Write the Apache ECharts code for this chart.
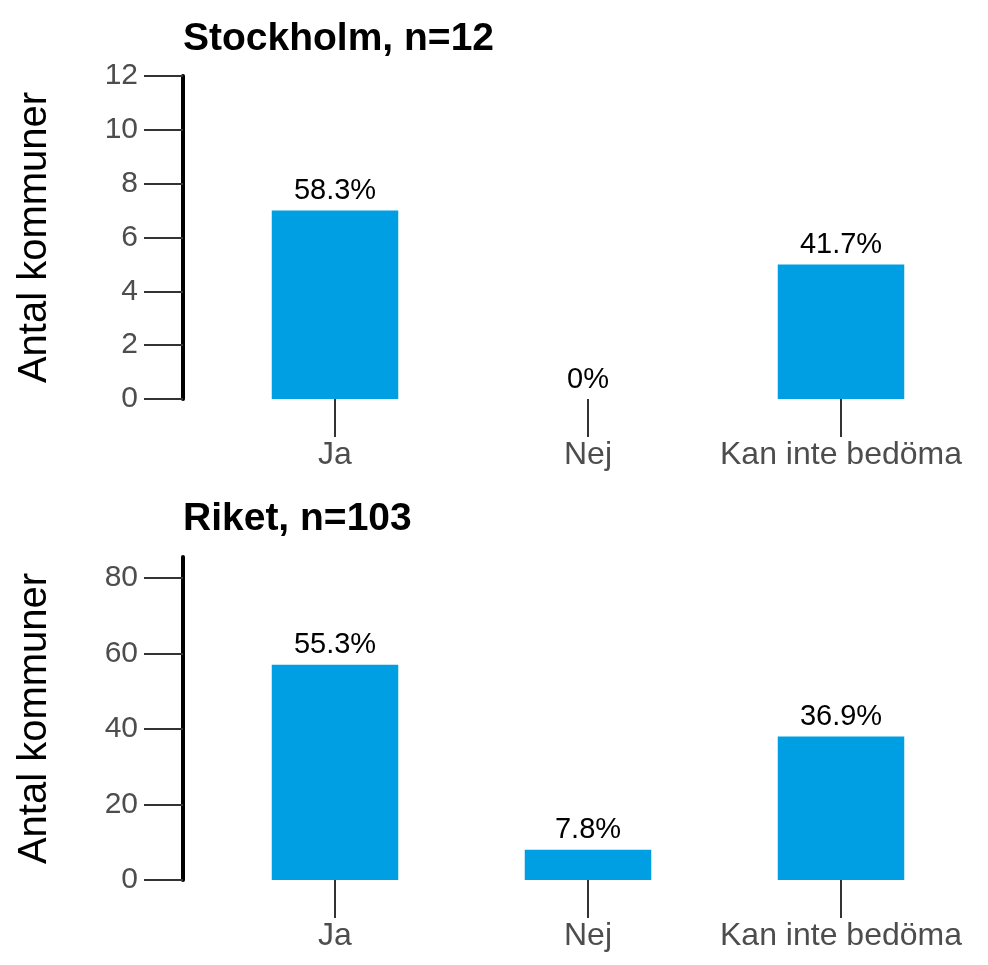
<!DOCTYPE html>
<html>
<head>
<meta charset="utf-8">
<script src="https://cdn.jsdelivr.net/npm/echarts@6/dist/echarts.min.js"></script>
<style>
  html, body { margin: 0; padding: 0; background: #fff; }
  #chart1 { width: 988px; height: 965px; }
</style>
</head>
<body>
<div id="chart1"></div>
<script>
// 类别
var categories = ['Ja', 'Nej', 'Kan inte bedöma'];

// Stockholm, n=12
var stockholmTitle = 'Stockholm, n=12';
var stockholmCounts = [7, 0, 5];
var stockholmPct = ['58.3%', '0%', '41.7%'];
var stockholmTicks = [0, 2, 4, 6, 8, 10, 12];
var stockholmMax = 12;

// Riket, n=103
var riketTitle = 'Riket, n=103';
var riketCounts = [57, 8, 38];
var riketPct = ['55.3%', '7.8%', '36.9%'];
var riketTicks = [0, 20, 40, 60, 80];
var riketMax = 85.5;

var fontName = 'Liberation Sans, Arial, sans-serif';

function makeXAxis(idx){
    return {
        type: 'category',
        gridIndex: idx,
        data: categories,
        axisLine: { show: false },
        axisTick: {
            show: true,
            interval: 0,
            alignWithLabel: true,
            length: 38,
            lineStyle: { color: '#333333', width: 2 }
        },
        axisLabel: {
            interval: 0,
            margin: 40,
            fontSize: 32,
            color: '#4d4d4d',
            fontFamily: fontName
        },
        splitLine: { show: false }
    };
}

function makeYAxis(idx, max, ticks){
    return {
        type: 'value',
        gridIndex: idx,
        min: 0,
        max: max,
        offset: 25.5,
        name: 'Antal kommuner',
        nameLocation: 'middle',
        nameRotate: 90,
        nameGap: 128,
        nameTextStyle: { fontSize: 40, color: '#000', fontFamily: fontName },
        axisLine: { show: true, lineStyle: { color: '#000', width: 4 } },
        axisTick: {
            show: true,
            length: 39,
            customValues: ticks,
            lineStyle: { color: '#333333', width: 2 }
        },
        axisLabel: {
            margin: 45,
            fontSize: 30,
            color: '#4d4d4d',
            fontFamily: fontName,
            customValues: ticks
        },
        splitLine: { show: false }
    };
}

function makeSeries(idx, counts, pct){
    return {
        type: 'bar',
        xAxisIndex: idx,
        yAxisIndex: idx,
        barWidth: '50%',
        data: counts,
        itemStyle: { color: '#009fe3' },
        label: {
            show: true,
            position: 'top',
            distance: 5,
            fontSize: 29,
            color: '#000',
            fontFamily: fontName,
            formatter: function(p){ return pct[p.dataIndex]; }
        }
    };
}

var option = {
    backgroundColor: '#fff',
    animation: false,
    title: [
        {
            text: stockholmTitle,
            left: 183, top: 20, padding: 0,
            textStyle: { fontSize: 39, fontWeight: 'bold', color: '#000', fontFamily: fontName }
        },
        {
            text: riketTitle,
            left: 183, top: 500, padding: 0,
            textStyle: { fontSize: 39, fontWeight: 'bold', color: '#000', fontFamily: fontName }
        }
    ],
    grid: [
        { left: 208.5, right: 20.5, top: 76, bottom: 566 },
        { left: 208.5, right: 20.5, top: 557, bottom: 85 }
    ],
    xAxis: [makeXAxis(0), makeXAxis(1)],
    yAxis: [makeYAxis(0, stockholmMax, stockholmTicks), makeYAxis(1, riketMax, riketTicks)],
    series: [
        makeSeries(0, stockholmCounts, stockholmPct),
        makeSeries(1, riketCounts, riketPct)
    ]
};

var myChart = echarts.init(document.getElementById('chart1'));
myChart.setOption(option);
</script>
</body>
</html>
